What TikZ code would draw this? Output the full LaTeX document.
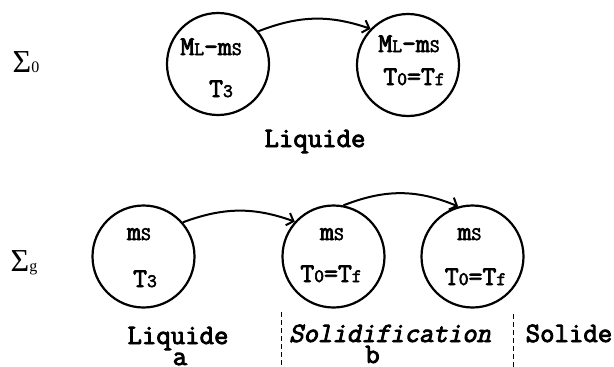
\documentclass[tikz,border=0pt]{standalone}
\usepackage{fontspec}
\newfontfamily\sigfont{Liberation Serif}
\newfontfamily\courb{Latin Modern Mono}[AutoFakeBold=3]
\newfontfamily\courbi{Latin Modern Mono}[FakeBold=3,FakeSlant=0.22]
\usetikzlibrary{arrows.meta}
\newcommand\cpsmall{\fontsize{19}{19}\selectfont}
\newcommand\sigsub{\fontsize{16}{16}\selectfont}
\begin{document}
\begin{tikzpicture}[x=1pt,y=-1pt,
  state/.style={circle,draw,line width=2.2pt,minimum size=102pt,inner sep=0pt},
  lbl/.style={font=\courb\bfseries\fontsize{28}{28}\selectfont,anchor=base,inner sep=0pt},
  ctext/.style={font=\courb\bfseries\fontsize{27}{27}\selectfont,anchor=base,inner sep=0pt},
  sig/.style={font=\sigfont\fontsize{32}{32}\selectfont,anchor=base,inner sep=0pt},
  arr/.style={line width=2pt,-{Straight Barb[length=6pt,width=13pt]}},
  sepline/.style={dash pattern=on 5pt off 3pt,line width=0.7pt}]
\useasboundingbox (0,0) rectangle (614,367);
% Sigma labels
\node[sig] (s0) at (26,72) {Σ{\sigsub 0}};
\node[sig] (sg) at (24,271) {Σ{\sigsub g}};
% top row
\node[state] (c1) at (218,64) {};
\node[state] (c2) at (408,65) {};
\node[ctext] (c1a) at (211,55) {M{\cpsmall L}-m{\cpsmall S}};
\node[ctext] (c1b) at (221,97) {T{\cpsmall 3}};
\node[ctext] (c2a) at (409,52) {M{\cpsmall L}-m{\cpsmall S}};
\node[ctext] (c2b) at (414,85) {T{\cpsmall 0}=T{\cpsmall f}};
\draw[arr] (c1.39.5) to[bend left=20] (c2.136);
\node[lbl] (liq0) at (315,147) {Liquide};
% bottom row
\node[state] (ca) at (143.5,256.5) {};
\node[state] (cb) at (333.5,256.5) {};
\node[state] (cc) at (472.5,256.5) {};
\node[ctext] (caa) at (139,240) {m{\cpsmall S}};
\node[ctext] (cab) at (145,287) {T{\cpsmall 3}};
\node[ctext] (cba) at (332,240) {m{\cpsmall S}};
\node[ctext] (cbb) at (331,282) {T{\cpsmall 0}=T{\cpsmall f}};
\node[ctext] (cca) at (469.5,240) {m{\cpsmall S}};
\node[ctext] (ccb) at (475.5,285) {T{\cpsmall 0}=T{\cpsmall f}};
\draw[arr] (ca.41) to[bend left=20] (cb.138);
\draw[arr] (cb.79.5) to[bend left=22] (cc.106);
% labels
\node[lbl] (liq) at (178,344) {Liquide};
\node[lbl] (la) at (180,365) {a};
\node[lbl,font=\courbi\fontsize{28}{28}\selectfont] (sol) at (390,342) {Solidification};
\node[lbl] (lb) at (372.5,363) {b};
\node[lbl] (sold) at (569,342) {Solide};
% separators
\coordinate (d1t) at (281,312);
\coordinate (d1b) at (281,367);
\coordinate (d2t) at (513,314);
\coordinate (d2b) at (513,367);
\draw[sepline] (d1t) -- (d1b);
\draw[sepline] (d2t) -- (d2b);
\end{tikzpicture}
\end{document}
